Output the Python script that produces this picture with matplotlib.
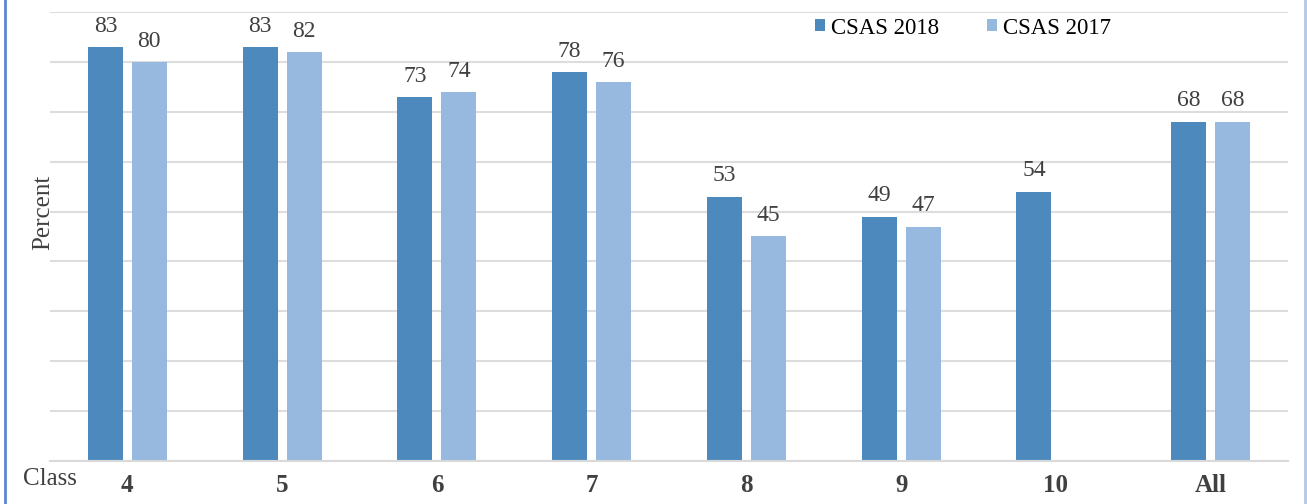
import matplotlib
matplotlib.use("Agg")
import matplotlib.pyplot as plt
from matplotlib.lines import Line2D
import numpy as np

categories = ["4", "5", "6", "7", "8", "9", "10", "All"]
csas_2018 = [83, 83, 73, 78, 53, 49, 54, 68]
csas_2017 = [80, 82, 74, 76, 45, 47, None, 68]
series_names = ["CSAS 2018", "CSAS 2017"]

plt.rcParams['font.family'] = ['Liberation Serif', 'DejaVu Serif']

W, H = 1307, 504
fig = plt.figure(figsize=(W / 100, H / 100), dpi=100)
left_px, right_px, top_px, base_px = 50, 1288, 12, 461
ax = fig.add_axes([left_px / W, (H - base_px) / H, (right_px - left_px) / W, (base_px - top_px) / H])

c18 = "#4E89BD"
c17 = "#97B9E0"
x = np.arange(len(categories))
bw = 0.226
off = 0.142

v18 = np.array(csas_2018, dtype=float)
v17 = np.array([np.nan if v is None else v for v in csas_2017], dtype=float)

ax.bar(x - off, v18, bw, color=c18, label=series_names[0], zorder=3)
ax.bar(x + off, np.nan_to_num(v17), bw, color=c17, label=series_names[1], zorder=3)

for xi, v in zip(x - off, v18):
    ax.annotate(f"{int(v)}", (xi, v), xytext=(0, 11), textcoords="offset points",
                ha="center", va="baseline", fontsize=17, color="#404040")
for xi, v in zip(x + off, v17):
    if not np.isnan(v):
        ax.annotate(f"{int(v)}", (xi, v), xytext=(0, 11), textcoords="offset points",
                    ha="center", va="baseline", fontsize=17, color="#404040")

ax.set_xlim(-0.5, len(categories) - 0.5)
ax.set_ylim(0, 90)
ax.set_yticks(np.arange(0, 91, 10))
ax.set_yticklabels([])
ax.tick_params(axis="y", length=0)
ax.grid(axis="y", color="#DDDDDD", linewidth=1.5, zorder=0)
ax.set_xticks(x)
ax.set_xticklabels(categories, fontsize=18, fontweight="bold", color="#404040")
ax.tick_params(axis="x", length=0, pad=9)
for s in ["top", "right", "left"]:
    ax.spines[s].set_visible(False)
ax.spines["bottom"].set_color("#D9D9D9")
ax.spines["bottom"].set_linewidth(1.5)
ax.spines["bottom"].set_zorder(4)

fig.text(43 / W, 1 - 212 / H, "Percent", rotation=90, ha="center", va="center",
         fontsize=18, color="#404040")
fig.text(50 / W, 1 - 479 / H, "Class", ha="center", va="center", fontsize=18, color="#404040")

leg = ax.legend(loc="center", bbox_to_anchor=(963 / W, 1 - 28 / H), bbox_transform=fig.transFigure,
                ncol=2, frameon=False, fontsize=16.5, handlelength=0.45, handleheight=0.45,
                handletextpad=0.25, columnspacing=2.1)

fig.add_artist(Line2D([5 / W, 5 / W], [0, 1], transform=fig.transFigure, color="#5B86D0", linewidth=2))
fig.add_artist(Line2D([1305 / W, 1305 / W], [0, 1], transform=fig.transFigure, color="#B4C7E7", linewidth=2))

fig.savefig("out.png", dpi=100)
